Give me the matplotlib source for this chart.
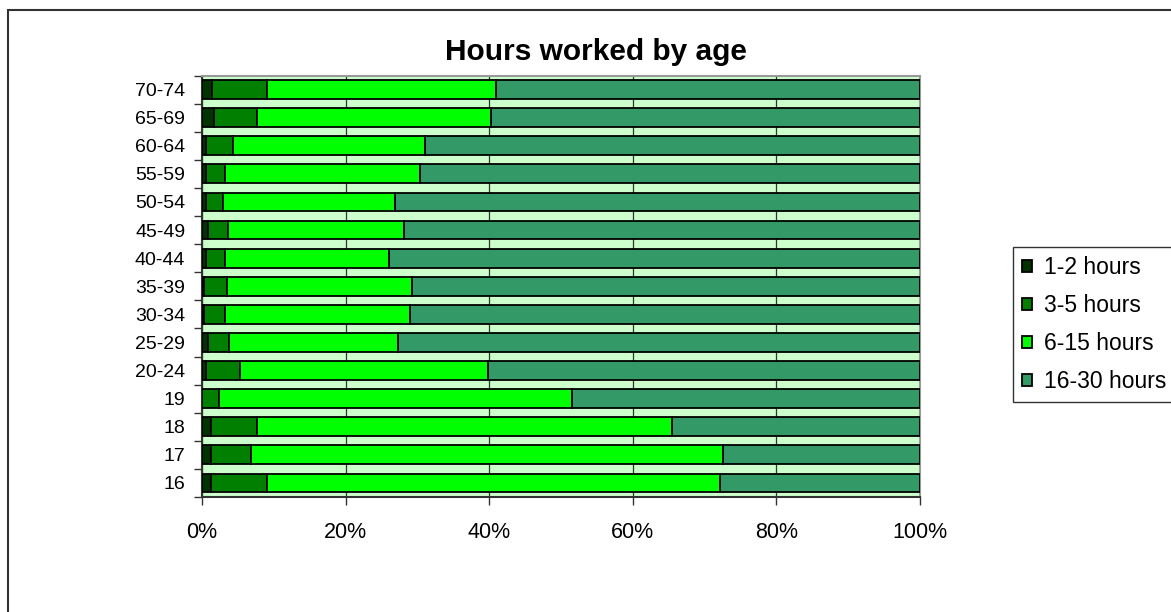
import numpy as np
import matplotlib
matplotlib.use('Agg')
import matplotlib.pyplot as plt
from matplotlib.patches import Rectangle

plt.rcParams['font.family'] = ['Liberation Sans', 'DejaVu Sans']

ages = ['16', '17', '18', '19', '20-24', '25-29', '30-34', '35-39',
        '40-44', '45-49', '50-54', '55-59', '60-64', '65-69', '70-74']

# share of workers (%) in each band of weekly hours
hours_1_2 = [1.2, 1.2, 1.2, 0.0, 0.5, 0.8, 0.3, 0.3, 0.5, 0.8, 0.5, 0.5, 0.5, 1.7, 1.4]
hours_3_5 = [7.9, 5.6, 6.5, 2.3, 4.8, 3.0, 2.9, 3.2, 2.7, 2.8, 2.4, 2.7, 3.8, 5.9, 7.7]
hours_6_15 = [63.0, 65.7, 57.7, 49.3, 34.5, 23.5, 25.7, 25.8, 22.9, 24.5, 24.0, 27.2, 26.8, 32.6, 31.9]
hours_16_30 = [27.9, 27.5, 34.6, 48.4, 60.2, 72.7, 71.1, 70.7, 73.9, 71.9, 73.1, 69.6, 68.9, 59.8, 59.0]

series = [('1-2 hours', hours_1_2, '#003300'),
          ('3-5 hours', hours_3_5, '#007f00'),
          ('6-15 hours', hours_6_15, '#00ff00'),
          ('16-30 hours', hours_16_30, '#339966')]

fig = plt.figure(figsize=(11.71, 6.12), dpi=100)
ax = fig.add_axes([202 / 1171, 1 - 497 / 612, 718 / 1171, 421.5 / 612])
ax.set_facecolor('#ccffcc')

y = np.arange(len(ages))
totals = np.sum([s[1] for s in series], axis=0)
left = np.zeros(len(ages))
for name, vals, color in series:
    share = np.array(vals) / totals
    ax.barh(y, share, left=left, height=0.67, color=color,
            edgecolor='black', linewidth=1.3, label=name, zorder=3)
    left += share

ax.set_xlim(0, 1)
ax.set_ylim(-0.5, len(ages) - 0.5)

# vertical gridlines every 20%
ax.set_xticks(np.linspace(0, 1, 6))
ax.set_xticklabels(['%d%%' % v for v in range(0, 101, 20)])
ax.grid(axis='x', color='#333333', linewidth=0.9, zorder=1)
ax.tick_params(axis='x', direction='out', length=6, width=1, color='#333333',
               labelsize=15.5, pad=12)

# category ticks sit between the bars, labels in the middle
ax.set_yticks(np.arange(len(ages) + 1) - 0.5)
ax.set_yticklabels([])
ax.set_yticks(y, minor=True)
ax.set_yticklabels(ages, minor=True)
ax.tick_params(axis='y', which='major', direction='out', length=6, width=1,
               color='#333333')
ax.tick_params(axis='y', which='minor', length=0, labelsize=14, pad=12)

for side in ['top', 'right']:
    ax.spines[side].set_color('#999999')
    ax.spines[side].set_linewidth(1.5)
for side in ['left', 'bottom']:
    ax.spines[side].set_color('#333333')
    ax.spines[side].set_linewidth(1.5)

fig.text(596 / 1171, 1 - 52 / 612, 'Hours worked by age', ha='center',
         va='center', fontsize=21.5, fontweight='bold')

leg = fig.legend(loc='upper left', bbox_to_anchor=(1013 / 1171, 1 - 247 / 612),
                 fontsize=16.5, frameon=True, fancybox=False, edgecolor='black',
                 handlelength=0.45, handleheight=0.45, handletextpad=0.5,
                 labelspacing=0.65, borderpad=0.4, borderaxespad=0)
leg.get_frame().set_linewidth(1)

# chart border
fig.patches.append(Rectangle((8 / 1171, -0.1), 1.2, 1 - 10 / 612 + 0.1,
                             transform=fig.transFigure, fill=False,
                             edgecolor='#333333', linewidth=1.5))

fig.savefig('out.png', dpi=100)
